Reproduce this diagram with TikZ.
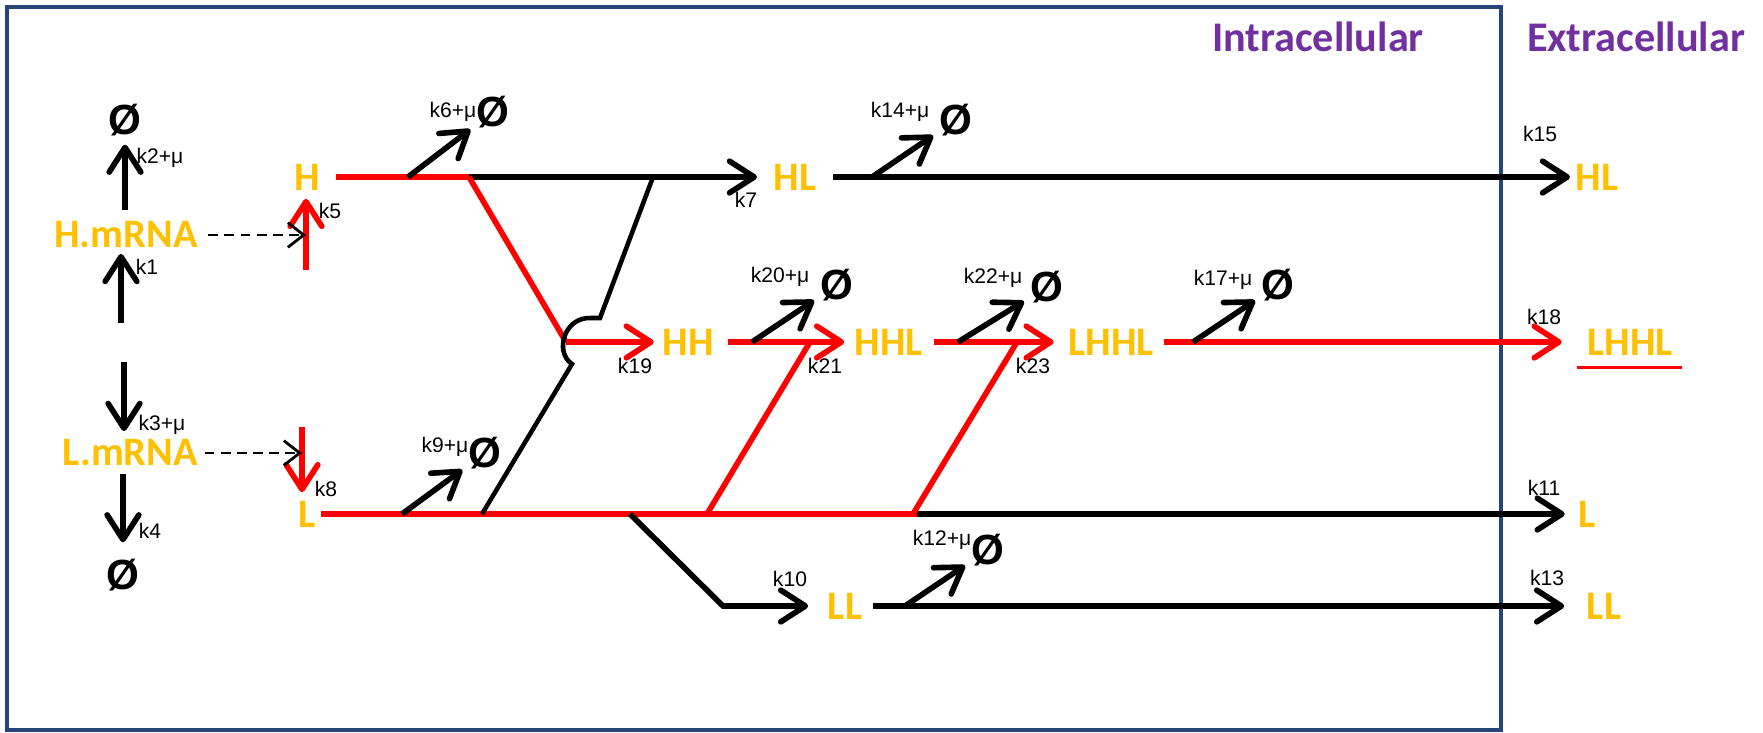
\documentclass[tikz,border=0pt]{standalone}
\usepackage{fontspec}
\setmainfont{Liberation Sans}
\newfontfamily\calib{Carlito}
\usetikzlibrary{arrows.meta}
\definecolor{spcol}{RGB}{255,192,0}
\definecolor{ttlcol}{RGB}{112,48,160}
\definecolor{memb}{RGB}{37,69,120}

\begin{document}
\begin{tikzpicture}[x=0.01cm,y=-0.01cm,
  sp/.style={font=\calib\bfseries\fontsize{11.5}{13}\selectfont,text=spcol,inner sep=0pt},
  kk/.style={font=\fontsize{6}{7}\selectfont,inner sep=0pt},
  nul/.style={font=\bfseries\fontsize{12}{14}\selectfont,inner sep=0pt},
  ttl/.style={font=\calib\bfseries\fontsize{12}{14}\selectfont,text=ttlcol},
  bl/.style={line width=1.6pt},
  rd/.style={line width=1.6pt,red},
  arr/.style={-{Straight Barb[length=7pt,width=9pt,round]}},
  dec/.style={bl,arr,shorten >=0.07cm},
  dsh/.style={line width=0.8pt,dash pattern=on 2.8pt off 1.8pt,-{Straight Barb[length=4.5pt,width=7pt]}}]
\useasboundingbox (0,0) rectangle (1763,732);
% cell boundary
\draw[memb,line width=1.1pt] (7,7) rectangle (1501,730);
\node[ttl] (intra) at (1318,37) {Intracellular};
\node[ttl] (extra) at (1636,37) {Extracellular};

% transcripts
\node[nul] (n2) at (125,120) {Ø};
\node[sp] (hm) at (126,235) {H.mRNA};
\node[sp] (lm) at (130,453) {L.mRNA};
\node[nul] (n4) at (123,575) {Ø};
\coordinate (s1) at (121,323); \coordinate (s3) at (124,362);
\draw[bl,arr,shorten >=0.05cm] (s1) -- (s1 |- hm.south);
\draw[bl,arr,shorten <=0.11cm,shorten >=0.08cm] (n2 |- hm.north) -- (n2.south);
\draw[bl,arr,shorten >=0.08cm] (s3) -- (s3 |- lm.north);
\draw[bl,arr,shorten <=0.07cm,shorten >=0.16cm] (n4 |- lm.south) -- (n4.north);
\node[kk] (lk2) at (160,158) {k2+μ};
\node[kk] (lk1) at (147,267) {k1};
\node[kk] (lk3) at (162,425) {k3+μ};
\node[kk] (lk4) at (150,531) {k4};

% translation
\node[sp] (H) at (307,177) {H};
\node[sp] (L) at (307,514) {L};
\coordinate (s5) at (306,270); \coordinate (s8) at (302,427);
\draw[rd,arr,shorten >=0.08cm] (s5) -- (s5 |- H.south);
\draw[rd,arr,shorten >=0.08cm] (s8) -- (s8 |- L.north);
\draw[dsh,shorten <=0.1cm] (hm.east) -- (hm.east -| s5);
\draw[dsh,shorten <=0.06cm] (lm.east) -- (lm.east -| s8);
\node[kk] (lk5) at (330,211) {k5};
\node[kk] (lk8) at (326,489) {k8};

% dimers and tetramer
\node[sp] (HL) at (795,177) {HL};
\node[sp] (HH) at (688,342) {HH};
\node[sp] (HHL) at (889,342) {HHL};
\node[sp] (LHHL) at (1111,342) {LHHL};
\node[sp] (LL) at (845,606) {LL};
\node[sp] (HLx) at (1597,177) {HL};
\node[sp] (LHHLx) at (1630,342) {LHHL};
\node[sp] (Lx) at (1587,514) {L};
\node[sp] (LLx) at (1604,606) {LL};

\coordinate (b1) at (469,177); \coordinate (b7) at (653,177);
\coordinate (J) at (566,342);
\coordinate (b8) at (482,514); \coordinate (b10) at (630,514);
\coordinate (c10) at (723,606);
\coordinate (m1) at (707,514); \coordinate (j21) at (810,342);
\coordinate (m2) at (913,514); \coordinate (j23) at (1017,342);
\coordinate (m3) at (917,514);
\coordinate (h1) at (600,318); \coordinate (h2) at (592,318); \coordinate (h3) at (572,364);

% H row
\draw[rd,shorten <=0.16cm] (H.east) -- (b1);
\draw[bl,arr,shorten >=0.16cm] (b1) -- (HL.west);
\draw[bl,arr,shorten <=0.16cm,shorten >=0.05cm] (HL.east) -- (HLx.west);
% L row
\draw[rd,shorten <=0.05cm] (L.east) -- (m3);
\draw[bl,arr,shorten >=0.13cm] (m3) -- (Lx.west);
\draw[bl,arr,shorten >=0.19cm] (b10) -- (c10) -- (LL.west);
\draw[bl,arr,shorten <=0.1cm,shorten >=0.22cm] (LL.east) -- (LLx.west);
% HH row
\draw[rd] (b1) -- (J);
\draw[rd] (m1) -- (j21);
\draw[rd] (m2) -- (j23);
\draw[rd,arr,shorten >=0.08cm] (J) -- (HH.west);
\draw[rd,arr,shorten <=0.14cm,shorten >=0.1cm] (HH.east) -- (HHL.west);
\draw[rd,arr,shorten <=0.1cm,shorten >=0.14cm] (HHL.east) -- (LHHL.west);
\draw[rd,arr,shorten <=0.1cm,shorten >=0.25cm] (LHHL.east) -- (LHHLx.west);
\draw[red,line width=0.9pt] ([xshift=-0.1cm,yshift=-0.12cm]LHHLx.south west) -- ([xshift=0.09cm,yshift=-0.12cm]LHHLx.south east);
% HL from L, jumping the red junction
\draw[line width=1.3pt] (b7) -- (h1) -- (h2) .. controls (564,316) and (554,352) .. (h3) -- (b8);

% degradation
\coordinate (d6) at (408,177);  \node[nul] (n6) at (493,112) {Ø};
\coordinate (d9) at (402,514);  \node[nul] (n9) at (485,453) {Ø};
\coordinate (d14) at (872,177); \node[nul] (n14) at (956,120) {Ø};
\coordinate (d20) at (752,342); \node[nul] (n20) at (837,285) {Ø};
\coordinate (d22) at (958,342); \node[nul] (n22) at (1047,287) {Ø};
\coordinate (d17) at (1193,342); \node[nul] (n17) at (1278,285) {Ø};
\coordinate (d12) at (905,606); \node[nul] (n12) at (988,550) {Ø};
\draw[dec] (d6) -- (n6); \draw[dec] (d9) -- (n9); \draw[dec] (d14) -- (n14);
\draw[dec] (d20) -- (n20); \draw[dec] (d22) -- (n22); \draw[dec] (d17) -- (n17);
\draw[dec] (d12) -- (n12);

% rates
\node[kk] (lk6) at (453,112) {k6+μ};
\node[kk] (lk7) at (746,200) {k7};
\node[kk] (lk9) at (445,447) {k9+μ};
\node[kk] (lk14) at (900,112) {k14+μ};
\node[kk] (lk15) at (1540,134) {k15};
\node[kk] (lk19) at (635,366) {k19};
\node[kk] (lk20) at (780,277) {k20+μ};
\node[kk] (lk21) at (825,366) {k21};
\node[kk] (lk22) at (993,278) {k22+μ};
\node[kk] (lk23) at (1033,366) {k23};
\node[kk] (lk17) at (1223,280) {k17+μ};
\node[kk] (lk18) at (1544,317) {k18};
\node[kk] (lk10) at (790,579) {k10};
\node[kk] (lk12) at (942,540) {k12+μ};
\node[kk] (lk11) at (1544,488) {k11};
\node[kk] (lk13) at (1547,578) {k13};
\end{tikzpicture}
\end{document}
